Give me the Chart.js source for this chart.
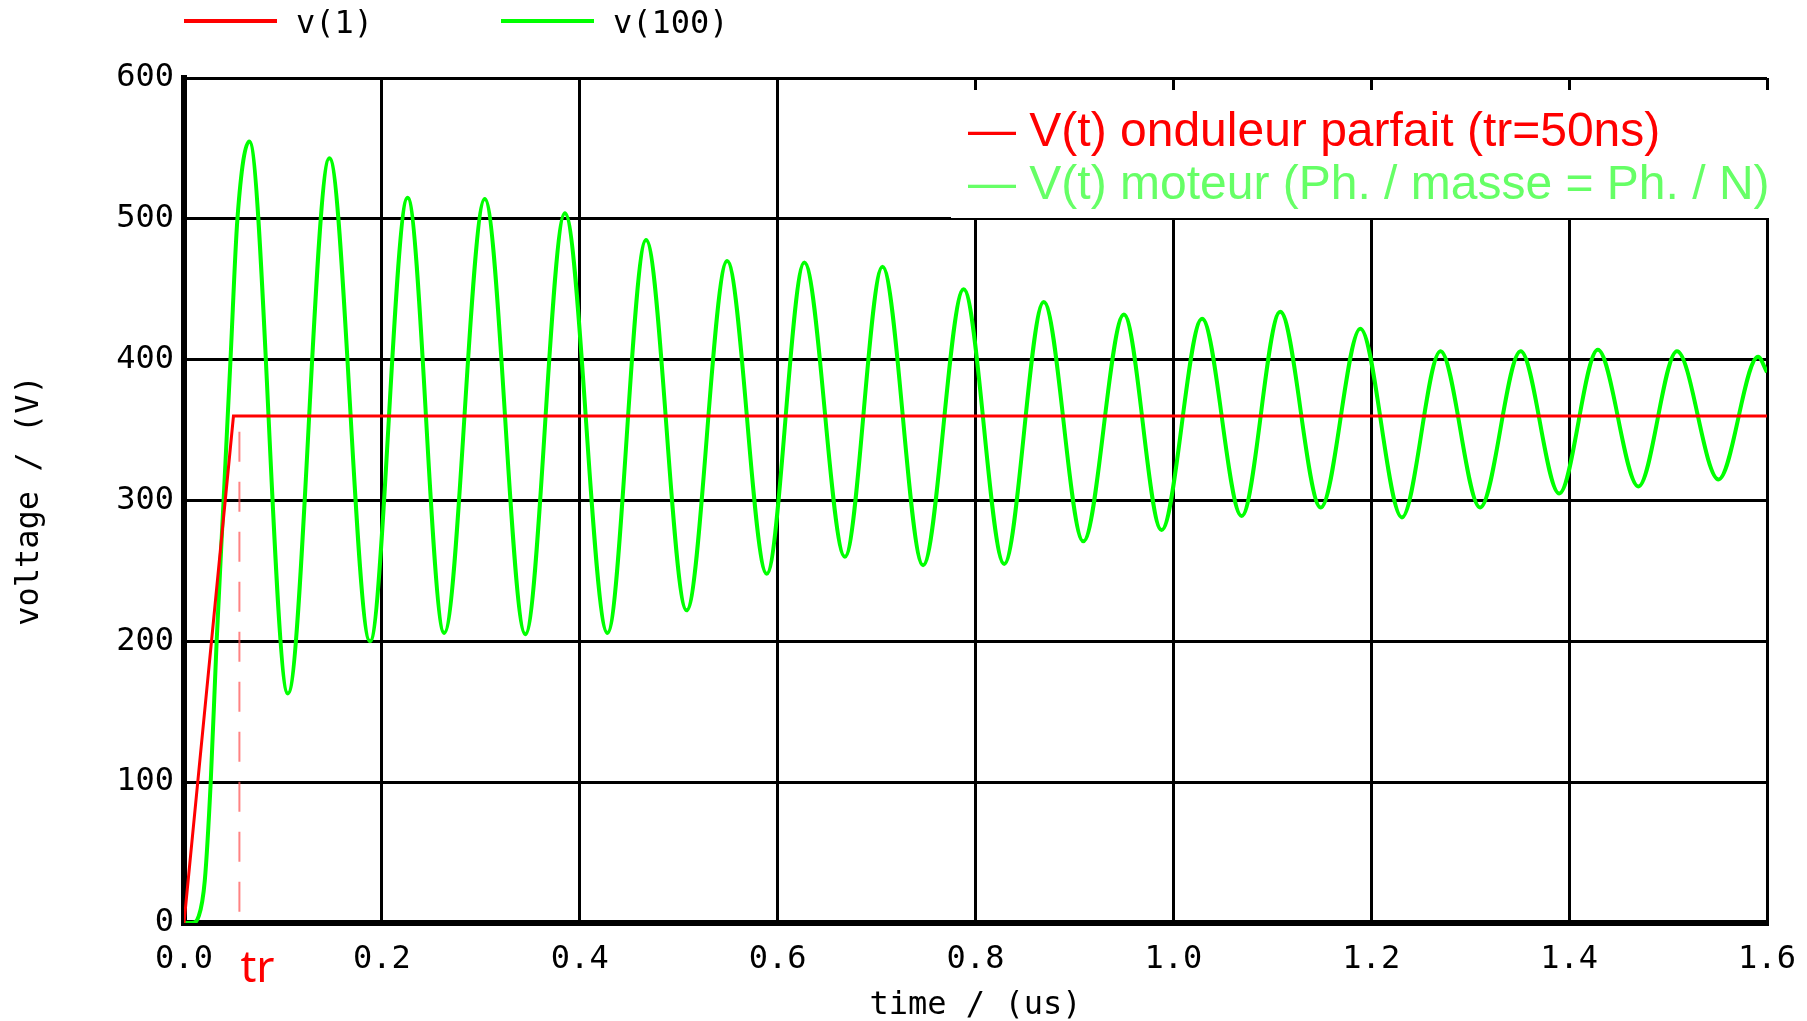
<!DOCTYPE html>
<html>
<head>
<meta charset="utf-8">
<script src="https://cdn.jsdelivr.net/npm/chart.js@4.4.1/dist/chart.umd.min.js"></script>
<style>
  html, body { margin: 0; padding: 0; background: #fff; }
  #wrap { width: 1807px; height: 1021px; }
</style>
</head>
<body>
<div id="wrap"><canvas id="simChart" width="1807" height="1021"></canvas></div>
<script>
// v(1) - onduleur parfait : rampe de 50 ns puis palier
const tInverter = [0, 0.05, 1.6];
const vInverter = [0, 360, 360];

// v(100) - tension moteur, lue pic par pic sur la courbe
const tMotor = [0, 0.008, 0.015, 0.021, 0.027, 0.033, 0.040, 0.047, 0.054, 0.066,
  0.105, 0.147, 0.188, 0.226, 0.263, 0.304, 0.345, 0.385, 0.428, 0.467,
  0.508, 0.549, 0.589, 0.627, 0.668, 0.706, 0.747, 0.788, 0.829, 0.869,
  0.909, 0.950, 0.988, 1.029, 1.069, 1.108, 1.149, 1.189, 1.231, 1.270,
  1.310, 1.351, 1.390, 1.429, 1.470, 1.509, 1.551, 1.591, 1.6];
const vMotor = [0, 0, 5, 30, 100, 200, 300, 400, 500, 555,
  163, 543, 200, 515, 206, 514, 205, 504, 206, 485,
  222, 470, 248, 469, 260, 466, 254, 450, 255, 441,
  271, 432, 279, 429, 289, 434, 295, 422, 288, 406,
  295, 406, 305, 407, 310, 406, 315, 402, 391];

// repere tr (pointilles)
const tRise = [0.056, 0.056];
const vRise = [8, 362];

const xTicks = [0, 0.2, 0.4, 0.6, 0.8, 1.0, 1.2, 1.4, 1.6];
const yTicks = [0, 100, 200, 300, 400, 500, 600];

const seriesNames = ['v(1)', 'v(100)'];
const noteLines = ['V(t) onduleur parfait (tr=50ns)', 'V(t) moteur (Ph. / masse = Ph. / N)'];

const RED = '#ff0000';
const GREEN = '#00ff00';
const MONO = '"DejaVu Sans Mono", monospace';

function toPoints(xs, ys) {
    return xs.map((x, i) => ({ x: x, y: ys[i] }));
}

// legende du haut + cartouche + label tr
const annotations = {
    id: 'annotations',
    afterDraw(chart) {
        const ctx = chart.ctx;
        const xs = chart.scales.x;
        ctx.save();

        // legende haut
        ctx.font = '32px ' + MONO;
        ctx.textBaseline = 'middle';
        ctx.textAlign = 'left';
        ctx.lineWidth = 4;
        const legendItems = [
            { color: RED, x: 184, label: seriesNames[0] },
            { color: GREEN, x: 501, label: seriesNames[1] }
        ];
        legendItems.forEach(item => {
            ctx.strokeStyle = item.color;
            ctx.beginPath();
            ctx.moveTo(item.x, 21);
            ctx.lineTo(item.x + 93, 21);
            ctx.stroke();
            ctx.fillStyle = '#000';
            ctx.fillText(item.label, item.x + 112, 25);
        });

        // cartouche blanc
        ctx.fillStyle = '#fff';
        ctx.fillRect(951, 90, 827, 128);
        ctx.font = '48px "Liberation Sans", Arial, sans-serif';
        ctx.textBaseline = 'alphabetic';
        ctx.fillStyle = RED;
        ctx.fillText('\u2014 ' + noteLines[0], 968, 146);
        ctx.fillStyle = '#66ff66';
        ctx.fillText('\u2014 ' + noteLines[1], 968, 199);

        // label tr
        ctx.fillStyle = RED;
        ctx.font = '44px "Noto Sans", sans-serif';
        ctx.fillText('tr', xs.getPixelForValue(tRise[0]) + 1, 982);
        ctx.restore();
    }
};

new Chart(document.getElementById('simChart').getContext('2d'), {
    type: 'line',
    data: {
        datasets: [
            {
                label: seriesNames[0],
                data: toPoints(tInverter, vInverter),
                borderColor: RED,
                borderWidth: 3,
                pointRadius: 0,
                tension: 0
            },
            {
                label: seriesNames[1],
                data: toPoints(tMotor, vMotor),
                borderColor: GREEN,
                borderWidth: 4,
                pointRadius: 0,
                cubicInterpolationMode: 'monotone'
            },
            {
                label: 'tr',
                data: toPoints(tRise, vRise),
                borderColor: 'rgba(255, 90, 90, 0.75)',
                borderWidth: 2,
                borderDash: [30, 20],
                pointRadius: 0
            }
        ]
    },
    options: {
        responsive: false,
        animation: false,
        events: [],
        layout: { padding: { top: 78, right: 40, left: 0, bottom: 0 } },
        plugins: {
            legend: { display: false },
            tooltip: { enabled: false }
        },
        scales: {
            x: {
                type: 'linear',
                min: 0,
                max: 1.6,
                afterBuildTicks: scale => { scale.ticks = xTicks.map(v => ({ value: v })); },
                afterFit: scale => {
                    scale.height = 98;
                    scale.paddingLeft = 0;
                    scale.paddingRight = 0;
                },
                grid: { color: '#000', lineWidth: 3, drawTicks: false },
                border: { color: '#000', width: 6 },
                ticks: {
                    color: '#000',
                    font: { family: MONO, size: 32 },
                    padding: 17,
                    maxRotation: 0,
                    callback: v => v.toFixed(1)
                },
                title: {
                    display: true,
                    text: 'time / (us)',
                    color: '#000',
                    font: { family: MONO, size: 32 },
                    padding: { top: 0, bottom: -4 }
                }
            },
            y: {
                min: 0,
                max: 600,
                afterBuildTicks: scale => { scale.ticks = yTicks.map(v => ({ value: v })); },
                afterFit: scale => { scale.width = 184; },
                grid: { color: '#000', lineWidth: 3, drawTicks: false },
                border: { color: '#000', width: 6 },
                ticks: {
                    color: '#000',
                    font: { family: MONO, size: 32 },
                    padding: 10
                },
                title: {
                    display: true,
                    text: 'voltage / (V)',
                    color: '#000',
                    font: { family: MONO, size: 32 },
                    padding: { top: 10, bottom: 0 }
                }
            }
        }
    },
    plugins: [annotations]
});
</script>
</body>
</html>
